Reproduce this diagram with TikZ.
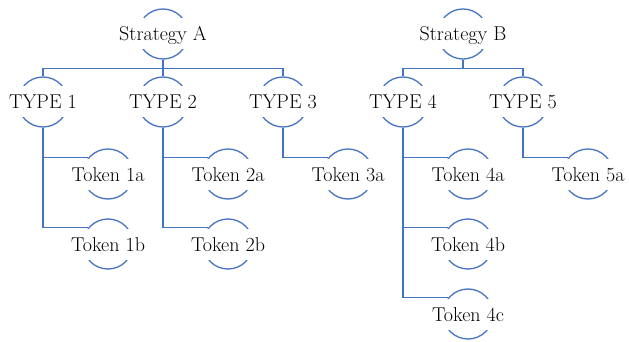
\documentclass[tikz,border=0pt]{standalone}
\usetikzlibrary{positioning}
\definecolor{linkblue}{RGB}{68,114,196}
\begin{document}
\begin{tikzpicture}[x=1pt,y=1pt,node distance=68pt and 120pt,on grid,
        every node/.style={font=\fontsize{20}{24}\selectfont},
        lbl/.style={fill=white,inner xsep=1pt,inner ysep=2pt,text height=20.5pt,text depth=6.5pt},
        arcnode/.style={circle,draw=linkblue,line width=1.3pt,minimum size=50pt,inner sep=0pt,label={[lbl]center:#1}},
        link/.style={draw=linkblue,line width=1.3pt}]
        \useasboundingbox (0,0) rectangle (629,-342);
        \node [arcnode=Strategy A] at (163,-34) (sa) {};
        \node [arcnode=TYPE 2,below=of sa] (ty2) {};
        \node [arcnode=TYPE 1,left=of ty2] (ty1) {};
        \node [arcnode=TYPE 3,right=of ty2] (ty3) {};
        \node [arcnode=Strategy B] at (463,-34) (sb) {};
        \node [arcnode=TYPE 4,below left=68pt and 60pt of sb] (ty4) {};
        \node [arcnode=TYPE 5,below right=68pt and 60pt of sb] (ty5) {};
        \node [arcnode=Token 1a,below right=72pt and 65pt of ty1] (k1a) {};
        \node [arcnode=Token 1b,below=70pt of k1a] (k1b) {};
        \node [arcnode=Token 2a,below right=72pt and 65pt of ty2] (k2a) {};
        \node [arcnode=Token 2b,below=70pt of k2a] (k2b) {};
        \node [arcnode=Token 3a,below right=72pt and 65pt of ty3] (k3a) {};
        \node [arcnode=Token 4a,below right=72pt and 65pt of ty4] (k4a) {};
        \node [arcnode=Token 4b,below=70pt of k4a] (k4b) {};
        \node [arcnode=Token 4c,below=70pt of k4b] (k4c) {};
        \node [arcnode=Token 5a,below right=72pt and 65pt of ty5] (k5a) {};
        \draw [link] (sa.south) -- ++(0,-9) -| (ty1.north);
        \draw [link] (sa.south) -- (ty2.north);
        \draw [link] (sa.south) -- ++(0,-9) -| (ty3.north);
        \draw [link] (sb.south) -- ++(0,-9) -| (ty4.north);
        \draw [link] (sb.south) -- ++(0,-9) -| (ty5.north);
        \draw [link] (ty1.south) |- (k1a.140);
        \draw [link] (ty1.south) |- (k1b.140);
        \draw [link] (ty2.south) |- (k2a.140);
        \draw [link] (ty2.south) |- (k2b.140);
        \draw [link] (ty3.south) |- (k3a.140);
        \draw [link] (ty4.south) |- (k4a.140);
        \draw [link] (ty4.south) |- (k4b.140);
        \draw [link] (ty4.south) |- (k4c.140);
        \draw [link] (ty5.south) |- (k5a.140);
\end{tikzpicture}
\end{document}
